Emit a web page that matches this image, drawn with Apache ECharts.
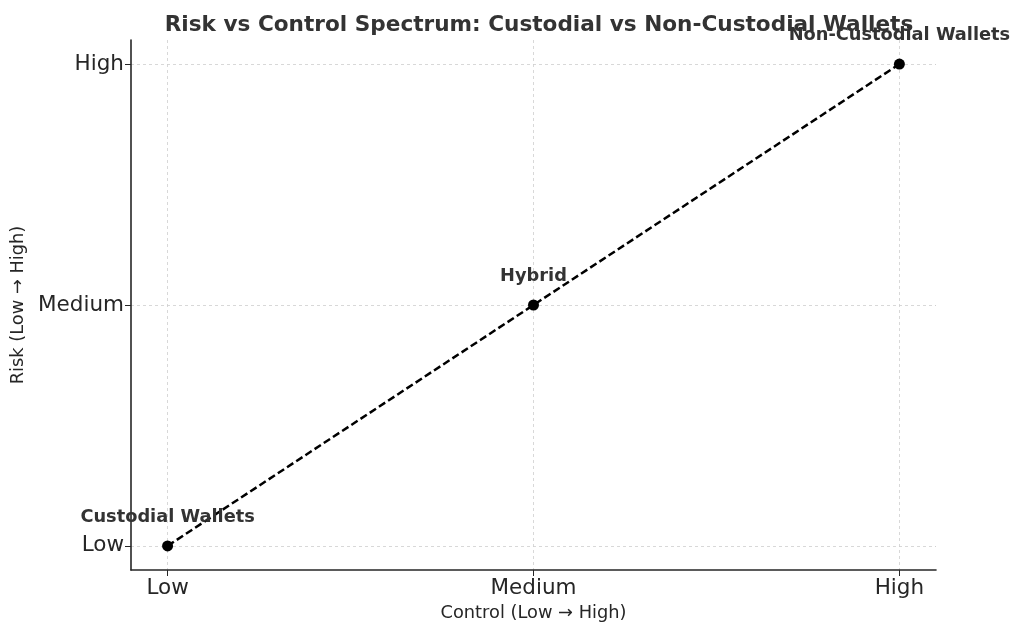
<!DOCTYPE html>
<html>
<head>
<meta charset="utf-8">
<script src="https://cdn.jsdelivr.net/npm/echarts@6/dist/echarts.min.js"></script>
<style>html,body{margin:0;padding:0;background:#fff}#c{width:1024px;height:636px}</style>
</head>
<body>
<div id="c"></div>
<script>
const levelLabels = ['Low', 'Medium', 'High'];
const controlValues = [0, 1, 2];
const riskValues = [0, 1, 2];
const pointNames = ['Custodial Wallets', 'Hybrid', 'Non-Custodial Wallets'];
const titleText = 'Risk vs Control Spectrum: Custodial vs Non-Custodial Wallets';
const xName = 'Control (Low \u2192 High)';
const yName = 'Risk (Low \u2192 High)';

const data = controlValues.map((x, i) => ({ value: [x, riskValues[i]], name: pointNames[i] }));
const font = 'DejaVu Sans';

const axisCommon = (name, nameGap) => ({
  type: 'value',
  min: -0.1,
  max: 2.1,
  name: name,
  nameLocation: 'middle',
  nameGap: nameGap,
  nameTextStyle: { fontFamily: font, fontSize: 17.8, color: '#262626' },
  axisLine: { show: true, onZero: false, lineStyle: { color: '#262626', width: 1.6 } },
  axisTick: { show: true, length: 6, customValues: controlValues, lineStyle: { color: '#262626', width: 1 } },
  axisLabel: {
    customValues: controlValues,
    fontFamily: font, fontSize: 21.5, color: '#262626', margin: 7,
    formatter: v => levelLabels[Math.round(v)]
  },
  splitLine: { show: true, lineStyle: { color: '#cfcfcf', type: [3, 3], width: 0.8 } }
});

const chart = echarts.init(document.getElementById('c'), null, { renderer: 'canvas' });
chart.setOption({
  backgroundColor: '#ffffff',
  animation: false,
  title: {
    text: titleText,
    left: 534, top: 9,
    textAlign: 'center',
    textStyle: { fontFamily: font, fontSize: 21.6, fontWeight: 'bold', color: '#333333' }
  },
  grid: { left: 131, right: 88, top: 40, bottom: 66, containLabel: false },
  xAxis: axisCommon(xName, 34),
  yAxis: axisCommon(yName, 98),
  series: [{
    type: 'line',
    data: data,
    symbol: 'circle',
    symbolSize: 11,
    itemStyle: { color: '#000000' },
    lineStyle: { color: '#000000', width: 2.5, type: [7.5, 3.5] },
    label: {
      show: true,
      position: 'top',
      distance: 14,
      formatter: p => p.name,
      fontFamily: font, fontSize: 17.8, fontWeight: 'bold', color: '#333333'
    },
    z: 5
  }]
});
</script>
</body>
</html>
